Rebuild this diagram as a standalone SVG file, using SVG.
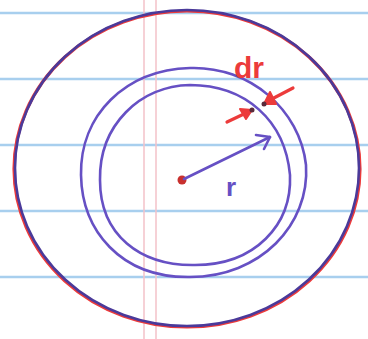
<svg xmlns="http://www.w3.org/2000/svg" width="368" height="339" viewBox="0 0 368 339">
<style>
.rule{stroke:#a8cfee;stroke-width:2.5}
.margin{stroke:#f3c2c8;stroke-width:1.5}
.pen{fill:none;stroke:#6650c4;stroke-width:2.6;stroke-linecap:round;stroke-linejoin:round}
.red{fill:none;stroke:#ec3b3b;stroke-width:3.2;stroke-linecap:round;stroke-linejoin:round}
.head{fill:#ec3b3b;stroke:#ec3b3b;stroke-width:2;stroke-linejoin:round}
.lbl{font-family:"Liberation Sans",Arial,sans-serif;font-weight:bold}
</style>
<rect width="368" height="339" fill="#ffffff"/>
<g id="paper">
<line class="rule" x1="0" y1="13" x2="368" y2="13"/>
<line class="rule" x1="0" y1="79" x2="368" y2="79"/>
<line class="rule" x1="0" y1="145" x2="368" y2="145"/>
<line class="rule" x1="0" y1="211" x2="368" y2="211"/>
<line class="rule" x1="0" y1="277" x2="368" y2="277"/>
<line class="margin" x1="144" y1="0" x2="144" y2="339"/>
<line class="margin" x1="156" y1="0" x2="156" y2="339"/>
</g>
<g id="outer-circle">
<ellipse class="red" cx="187" cy="169" rx="173" ry="158"/>
<ellipse cx="187" cy="168" rx="172" ry="158" fill="none" stroke="#4a3a9a" stroke-width="2.6"/>
</g>
<g id="middle-circle">
<path class="pen" d="M190,68 C250,66 300,110 306,165 C310,225 260,277 190,277 C120,278 82,230 81,175 C80,115 125,70 190,68 Z"/>
</g>
<g id="inner-circle">
<path class="pen" d="M190,85 C245,85 285,120 290,175 C292,225 255,265 195,265 C140,266 100,235 100,180 C99,125 140,86 190,85 Z"/>
</g>
<g id="radius">
<circle cx="182" cy="180" r="4.5" fill="#c8302e"/>
<line class="pen" x1="184" y1="179" x2="270" y2="137"/>
<path class="pen" d="M256,135 L270,137 L264,149"/>
<text class="lbl" x="226" y="196" font-size="26" fill="#6650c4">r</text>
</g>
<g id="dr">
<text class="lbl" x="234" y="78" font-size="30" fill="#ec3b3b">dr</text>
<line class="red" x1="293" y1="88" x2="270" y2="100"/>
<polygon class="head" points="264,104 270,92 276,104"/>
<line class="red" x1="227" y1="122" x2="246" y2="113"/>
<polygon class="head" points="252,110 240,109 246,119"/>
<circle cx="264" cy="104" r="2.5" fill="#5a2a3a"/>
<circle cx="252" cy="110" r="2.5" fill="#5a2a3a"/>
</g>
</svg>
